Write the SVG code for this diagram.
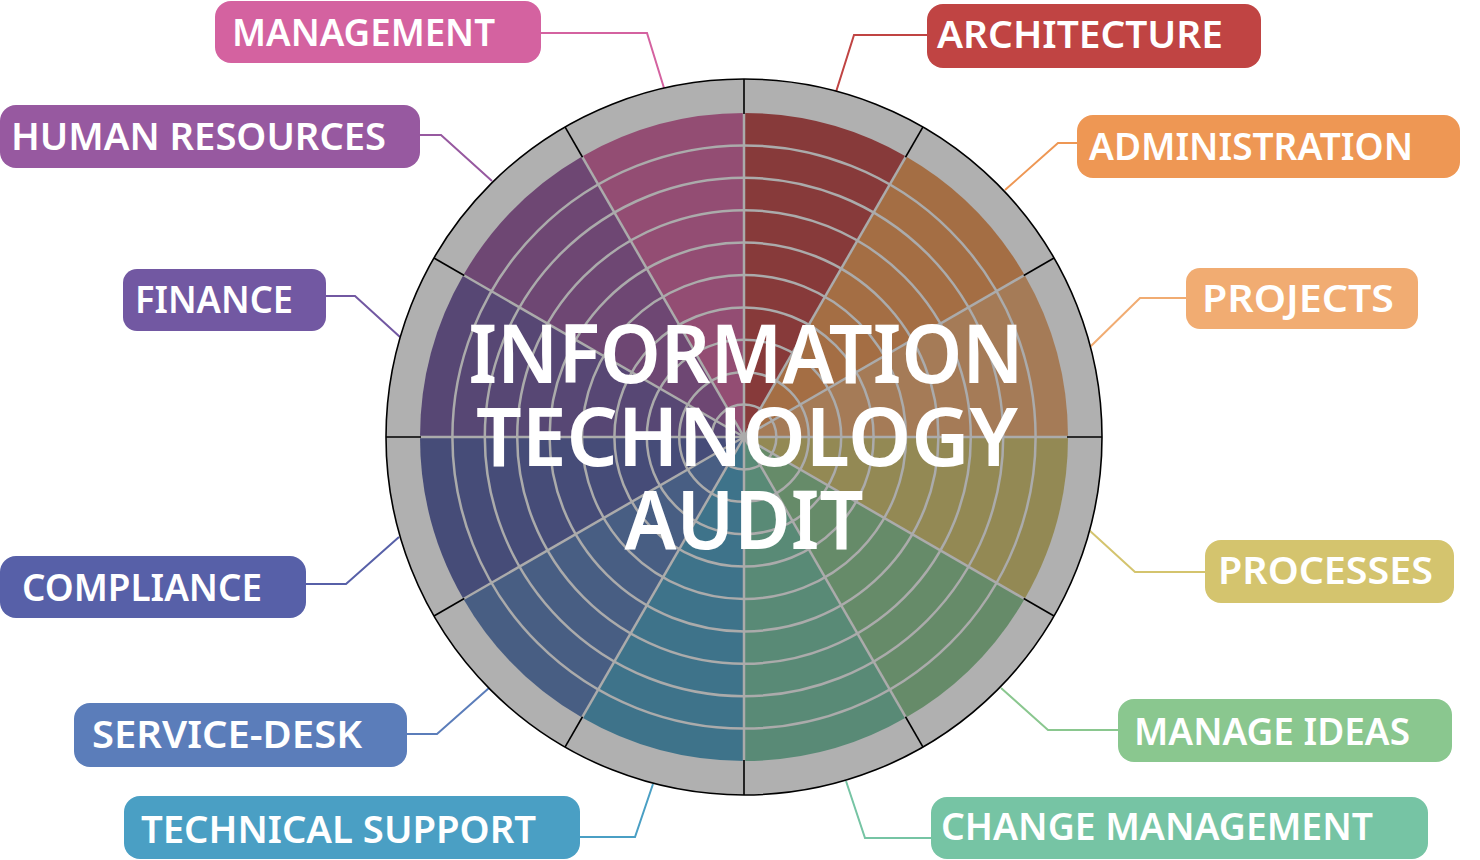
<svg xmlns="http://www.w3.org/2000/svg" width="1480" height="860" viewBox="0 0 1480 860">
<style>
.lbl{font-family:"Noto Sans","DejaVu Sans",sans-serif;font-weight:600;font-size:37px;fill:#ffffff}
.title{font-family:"Noto Sans","DejaVu Sans",sans-serif;font-weight:600;font-size:81px;fill:#ffffff;text-anchor:middle}
.lead{fill:none;stroke-width:2}
.ring{fill:none;stroke:#ababab;stroke-width:2.5}
.rad{stroke:#ababab;stroke-width:2.5}
.tick{stroke:#000000;stroke-width:1.6}
</style>
<rect width="1480" height="860" fill="#ffffff"/>
<g id="connectors">
<polyline class="lead" stroke="#d462a0" points="541,33 647,33 664,88"/>
<polyline class="lead" stroke="#9759a0" points="420,135 441,135 492,181"/>
<polyline class="lead" stroke="#7258a2" points="326,296 355,296 400,337"/>
<polyline class="lead" stroke="#5760a8" points="306,584 346,584 399,537"/>
<polyline class="lead" stroke="#5b7dba" points="407,734 437,734 489,688"/>
<polyline class="lead" stroke="#4a9fc4" points="580,837 635,837 653,784"/>
<polyline class="lead" stroke="#c04443" points="927,35 854,35 836,92"/>
<polyline class="lead" stroke="#ee9754" points="1077,143 1058,143 1005,190"/>
<polyline class="lead" stroke="#f1ac72" points="1186,298 1140,298 1090,347"/>
<polyline class="lead" stroke="#d4c46e" points="1205,572 1135,572 1089,530"/>
<polyline class="lead" stroke="#8ac78f" points="1118,730 1048,730 1001,688"/>
<polyline class="lead" stroke="#76c4a4" points="931,838 865,838 846,781"/>
</g>
<g id="wheel">
<circle cx="744" cy="437" r="358" fill="#b0b0b0" stroke="#000000" stroke-width="1.6"/>
<path fill="#873a3a" d="M744 437 L744 113 A324 324 0 0 1 906 156.41 Z"/>
<path fill="#a46e44" d="M744 437 L906 156.41 A324 324 0 0 1 1024.59 275 Z"/>
<path fill="#a57b57" d="M744 437 L1024.59 275 A324 324 0 0 1 1068 437 Z"/>
<path fill="#938954" d="M744 437 L1068 437 A324 324 0 0 1 1024.59 599 Z"/>
<path fill="#668b69" d="M744 437 L1024.59 599 A324 324 0 0 1 906 717.59 Z"/>
<path fill="#598a76" d="M744 437 L906 717.59 A324 324 0 0 1 744 761 Z"/>
<path fill="#3e738a" d="M744 437 L744 761 A324 324 0 0 1 582 717.59 Z"/>
<path fill="#485e83" d="M744 437 L582 717.59 A324 324 0 0 1 463.41 599 Z"/>
<path fill="#464c78" d="M744 437 L463.41 599 A324 324 0 0 1 420 437 Z"/>
<path fill="#574774" d="M744 437 L420 437 A324 324 0 0 1 463.41 275 Z"/>
<path fill="#6e4773" d="M744 437 L463.41 275 A324 324 0 0 1 582 156.41 Z"/>
<path fill="#934d73" d="M744 437 L582 156.41 A324 324 0 0 1 744 113 Z"/>
<g>
<circle class="ring" cx="744" cy="437" r="291.6"/>
<circle class="ring" cx="744" cy="437" r="259.2"/>
<circle class="ring" cx="744" cy="437" r="226.8"/>
<circle class="ring" cx="744" cy="437" r="194.4"/>
<circle class="ring" cx="744" cy="437" r="162"/>
<circle class="ring" cx="744" cy="437" r="129.6"/>
<circle class="ring" cx="744" cy="437" r="97.2"/>
<circle class="ring" cx="744" cy="437" r="64.8"/>
<circle class="ring" cx="744" cy="437" r="32.4"/>
</g>
<g>
<line class="rad" x1="744" y1="437" x2="744" y2="113"/>
<line class="rad" x1="744" y1="437" x2="744" y2="113" transform="rotate(30 744 437)"/>
<line class="rad" x1="744" y1="437" x2="744" y2="113" transform="rotate(60 744 437)"/>
<line class="rad" x1="744" y1="437" x2="744" y2="113" transform="rotate(90 744 437)"/>
<line class="rad" x1="744" y1="437" x2="744" y2="113" transform="rotate(120 744 437)"/>
<line class="rad" x1="744" y1="437" x2="744" y2="113" transform="rotate(150 744 437)"/>
<line class="rad" x1="744" y1="437" x2="744" y2="113" transform="rotate(180 744 437)"/>
<line class="rad" x1="744" y1="437" x2="744" y2="113" transform="rotate(210 744 437)"/>
<line class="rad" x1="744" y1="437" x2="744" y2="113" transform="rotate(240 744 437)"/>
<line class="rad" x1="744" y1="437" x2="744" y2="113" transform="rotate(270 744 437)"/>
<line class="rad" x1="744" y1="437" x2="744" y2="113" transform="rotate(300 744 437)"/>
<line class="rad" x1="744" y1="437" x2="744" y2="113" transform="rotate(330 744 437)"/>
</g>
<g>
<line class="tick" x1="744" y1="79" x2="744" y2="114"/>
<line class="tick" x1="744" y1="79" x2="744" y2="114" transform="rotate(30 744 437)"/>
<line class="tick" x1="744" y1="79" x2="744" y2="114" transform="rotate(60 744 437)"/>
<line class="tick" x1="744" y1="79" x2="744" y2="114" transform="rotate(90 744 437)"/>
<line class="tick" x1="744" y1="79" x2="744" y2="114" transform="rotate(120 744 437)"/>
<line class="tick" x1="744" y1="79" x2="744" y2="114" transform="rotate(150 744 437)"/>
<line class="tick" x1="744" y1="79" x2="744" y2="114" transform="rotate(180 744 437)"/>
<line class="tick" x1="744" y1="79" x2="744" y2="114" transform="rotate(210 744 437)"/>
<line class="tick" x1="744" y1="79" x2="744" y2="114" transform="rotate(240 744 437)"/>
<line class="tick" x1="744" y1="79" x2="744" y2="114" transform="rotate(270 744 437)"/>
<line class="tick" x1="744" y1="79" x2="744" y2="114" transform="rotate(300 744 437)"/>
<line class="tick" x1="744" y1="79" x2="744" y2="114" transform="rotate(330 744 437)"/>
</g>
<g id="title">
<text class="title" x="746" y="383" textLength="555" lengthAdjust="spacingAndGlyphs">INFORMATION</text>
<text class="title" x="747" y="466" textLength="542" lengthAdjust="spacingAndGlyphs">TECHNOLOGY</text>
<text class="title" x="744" y="549" textLength="239" lengthAdjust="spacingAndGlyphs">AUDIT</text>
</g>
</g>
<g id="management"><rect x="215" y="1" width="326" height="62" rx="16" fill="#d462a0"/><text class="lbl" x="232" y="46" textLength="263" lengthAdjust="spacingAndGlyphs">MANAGEMENT</text></g>
<g id="human-resources"><rect x="0" y="105" width="420" height="63" rx="16" fill="#9759a0"/><text class="lbl" x="11" y="150" textLength="375" lengthAdjust="spacingAndGlyphs">HUMAN RESOURCES</text></g>
<g id="finance"><rect x="123" y="269" width="203" height="62" rx="14" fill="#7258a2"/><text class="lbl" x="135" y="313" textLength="158" lengthAdjust="spacingAndGlyphs">FINANCE</text></g>
<g id="compliance"><rect x="0" y="556" width="306" height="62" rx="16" fill="#5760a8"/><text class="lbl" x="22" y="601" textLength="240" lengthAdjust="spacingAndGlyphs">COMPLIANCE</text></g>
<g id="service-desk"><rect x="74" y="703" width="333" height="64" rx="16" fill="#5b7dba"/><text class="lbl" x="92" y="748" textLength="270" lengthAdjust="spacingAndGlyphs">SERVICE-DESK</text></g>
<g id="technical-support"><rect x="124" y="796" width="456" height="63" rx="16" fill="#4a9fc4"/><text class="lbl" x="141" y="843" textLength="395" lengthAdjust="spacingAndGlyphs">TECHNICAL SUPPORT</text></g>
<g id="architecture"><rect x="927" y="4" width="334" height="64" rx="16" fill="#c04443"/><text class="lbl" x="937" y="48" textLength="286" lengthAdjust="spacingAndGlyphs">ARCHITECTURE</text></g>
<g id="administration"><rect x="1077" y="115" width="383" height="63" rx="16" fill="#ee9754"/><text class="lbl" x="1089" y="160" textLength="324" lengthAdjust="spacingAndGlyphs">ADMINISTRATION</text></g>
<g id="projects"><rect x="1186" y="268" width="232" height="61" rx="14" fill="#f1ac72"/><text class="lbl" x="1202" y="312" textLength="192" lengthAdjust="spacingAndGlyphs">PROJECTS</text></g>
<g id="processes"><rect x="1205" y="540" width="249" height="63" rx="16" fill="#d4c46e"/><text class="lbl" x="1218" y="584" textLength="215" lengthAdjust="spacingAndGlyphs">PROCESSES</text></g>
<g id="manage-ideas"><rect x="1118" y="699" width="334" height="63" rx="16" fill="#8ac78f"/><text class="lbl" x="1134" y="745" textLength="276" lengthAdjust="spacingAndGlyphs">MANAGE IDEAS</text></g>
<g id="change-management"><rect x="931" y="797" width="497" height="62" rx="16" fill="#76c4a4"/><text class="lbl" x="941" y="840" textLength="432" lengthAdjust="spacingAndGlyphs">CHANGE MANAGEMENT</text></g>
</svg>
